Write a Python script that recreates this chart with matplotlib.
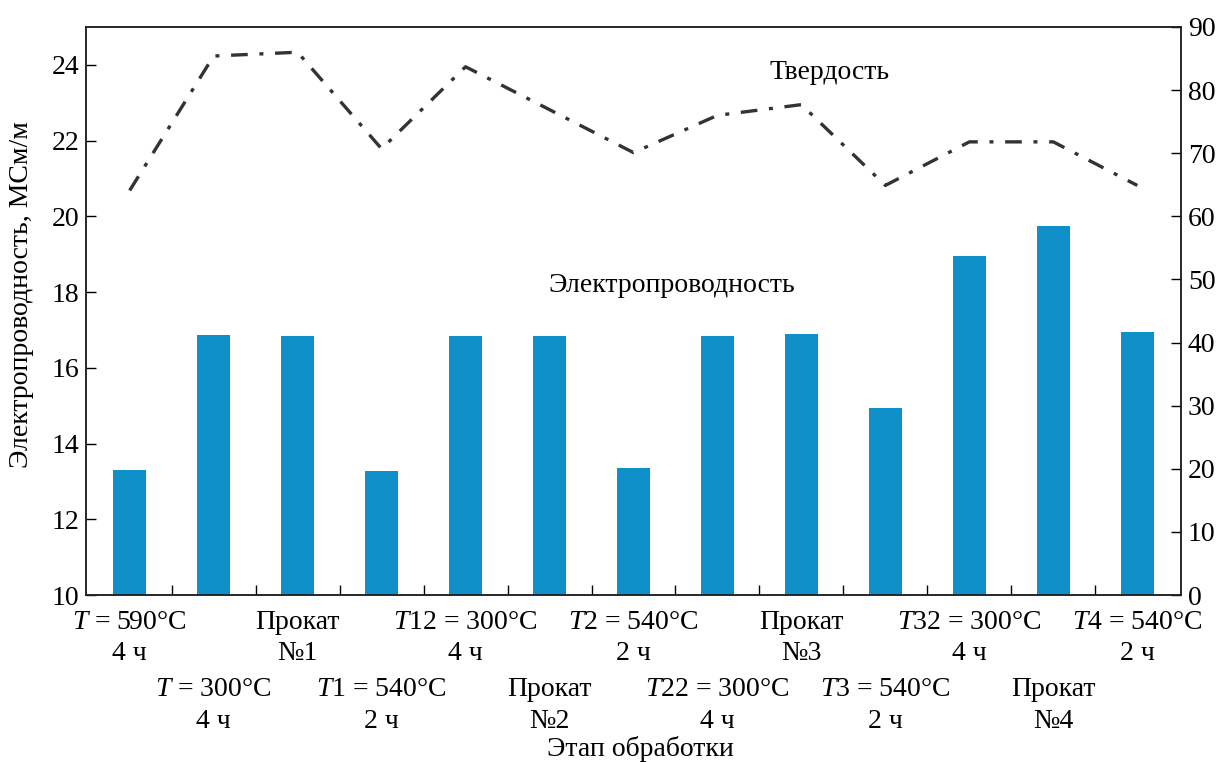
import matplotlib
matplotlib.use("Agg")
import matplotlib.pyplot as plt
import numpy as np

plt.rcParams['font.family'] = ['Liberation Serif', 'DejaVu Serif']
plt.rcParams['mathtext.fontset'] = 'custom'
plt.rcParams['mathtext.rm'] = 'Liberation Serif'
plt.rcParams['mathtext.it'] = 'Liberation Serif:italic'
plt.rcParams['font.size'] = 20

stages = ['$T$ = 590°C\n4 ч', '$T$ = 300°C\n4 ч', 'Прокат\n№1', '$T$1 = 540°C\n2 ч',
          '$T$12 = 300°C\n4 ч', 'Прокат\n№2', '$T$2 = 540°C\n2 ч', '$T$22 = 300°C\n4 ч',
          'Прокат\n№3', '$T$3 = 540°C\n2 ч', '$T$32 = 300°C\n4 ч', 'Прокат\n№4',
          '$T$4 = 540°C\n2 ч']
conductivity = [13.3, 16.88, 16.85, 13.27, 16.85, 16.85, 13.35, 16.85, 16.9, 14.95, 18.95, 19.75, 16.95]
hardness = [64.1, 85.4, 86.0, 70.7, 83.7, 76.9, 70.1, 76.0, 77.7, 64.9, 71.8, 71.8, 64.9]

x = np.arange(len(stages))

fig = plt.figure(figsize=(12.2, 7.62), dpi=100)
ax = fig.add_axes([0.0705, 0.219, 0.8975, 0.7456])
ax2 = ax.twinx()

ax.bar(x, conductivity, width=0.4, color='#0e8fc8')
ax.set_ylim(10, 25)
ax.set_xlim(-0.52, 12.52)
ax.set_yticks(np.arange(10, 25, 2))

ax2.plot(x, hardness, color='#333333', lw=2.4, ls=(0, (5, 3.5, 1.2, 3.5)))
ax2.set_ylim(0, 90)
ax2.set_yticks(np.arange(0, 91, 10))

# staggered two-row stage labels
ax.set_xticks([])
ax.set_xticks(x[:-1] + 0.5, minor=True)
ax.tick_params(axis='x', which='minor', direction='in', length=7, width=1, labelbottom=False)
for i, s in enumerate(stages):
    dy = 10.5 if i % 2 == 0 else 59
    ax.annotate(s, xy=(x[i], 0), xycoords=('data', 'axes fraction'),
                xytext=(0, -dy), textcoords='offset points',
                ha='center', va='top', linespacing=1.35)

ax.tick_params(axis='y', direction='in', length=7, width=1, pad=5)
ax2.tick_params(axis='y', direction='in', length=7, width=1, pad=5)
for a in (ax, ax2):
    for sp in a.spines.values():
        sp.set_linewidth(1.1)
        sp.set_color('#222222')

fig.text(22 / 1220, 1 - 295 / 762, 'Электропроводность, МСм/м', rotation=90,
         ha='center', va='center')
fig.text(640 / 1220, 1 - 749 / 762, 'Этап обработки', ha='center', va='center')

ax.text(8.34, 23.8, 'Твердость', ha='center', va='center')
ax.text(6.46, 18.18, 'Электропроводность', ha='center', va='center')

fig.savefig('out.png', dpi=100)
